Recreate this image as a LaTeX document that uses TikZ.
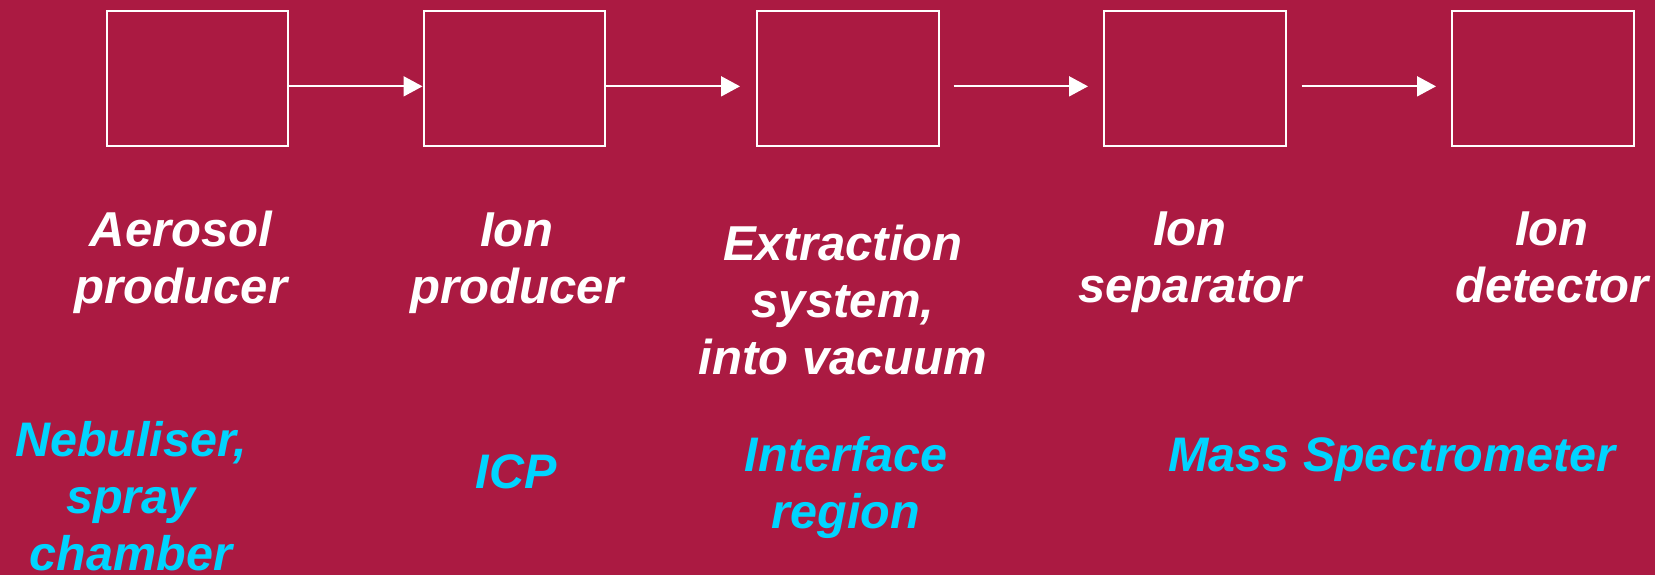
\documentclass[tikz,border=0pt]{standalone}
\usepackage{fontspec}
\setmainfont{Liberation Sans}
\usetikzlibrary{arrows.meta}
\definecolor{bgred}{HTML}{AB1A42}
\definecolor{labcyan}{HTML}{00D4FF}
\newcommand{\lines}[1]{\begin{tabular}[t]{@{}c@{}}#1\end{tabular}}
\begin{document}
\begin{tikzpicture}[x=1pt,y=-1pt,
  stagebox/.style={draw=white, line width=2pt, minimum width=181.5pt, minimum height=135.3pt, inner sep=0pt, anchor=north west},
  arr/.style={draw=white, line width=2pt, -{Triangle[length=19pt,width=20pt]}},
  wlab/.style={text=white, font=\fontsize{49}{57}\selectfont\bfseries\itshape, inner sep=0pt, anchor=base},
  clab/.style={text=labcyan, font=\fontsize{48.5}{57}\selectfont\bfseries\itshape, inner sep=0pt, anchor=base}]
\fill[bgred] (0,0) rectangle (1655,575);
\useasboundingbox (0,0) rectangle (1655,575);
% boxes
\node[stagebox] (b1) at (105.5,9.7) {};
\node[stagebox] (b2) at (422.5,9.7) {};
\node[stagebox] (b3) at (756,9.7) {};
\node[stagebox] (b4) at (1103,9.7) {};
\node[stagebox] (b5) at (1451,9.7) {};
% arrows
\draw[arr] ([yshift=-8pt]b1.east) -- ([yshift=-8pt]b2.west);
\draw[arr, shorten >=16pt] ([yshift=-8pt]b2.east) -- ([yshift=-8pt]b3.west);
\draw[arr, shorten <=14pt, shorten >=15pt] ([yshift=-8pt]b3.east) -- ([yshift=-8pt]b4.west);
\draw[arr, shorten <=15pt, shorten >=15pt] ([yshift=-8pt]b4.east) -- ([yshift=-8pt]b5.west);
% white labels
\node[wlab] (t1) at (181,246.7) {\lines{Aerosol\\producer}};
\node[wlab] (t2) at (517,246.7) {\lines{Ion\\producer}};
\node[wlab] (t3) at (843,260) {\lines{Extraction\\system,\\into vacuum}};
\node[wlab] (t4) at (1190,245) {\lines{Ion\\separator}};
\node[wlab] (t5) at (1552,245) {\lines{Ion\\detector}};
% cyan labels
\node[clab] (c1) at (131,456.7) {\lines{Nebuliser,\\spray\\chamber}};
\node[clab] (c2) at (516,488.3) {ICP};
\node[clab] (c3) at (846,471.7) {\lines{Interface\\region}};
\node[clab] (c4) at (1392,471.7) {Mass Spectrometer};
\end{tikzpicture}
\end{document}
